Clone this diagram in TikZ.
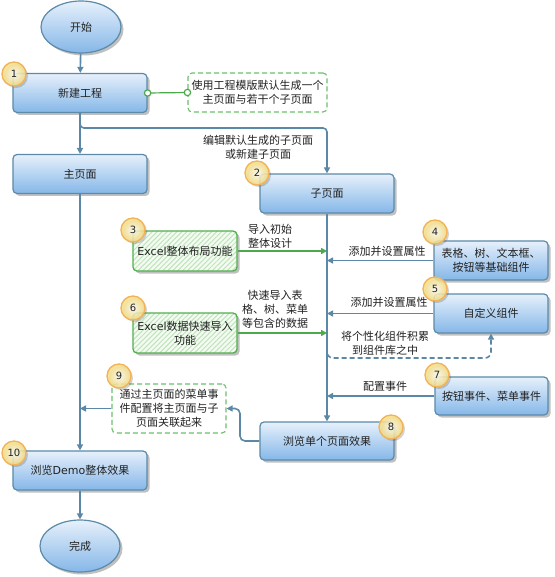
\documentclass[tikz,border=0pt]{standalone}
\usepackage{fontspec}
\newfontfamily\cjk{Noto Sans CJK SC}
\newfontfamily\lat{DejaVu Sans}
\usetikzlibrary{shapes.geometric,arrows.meta,shadows,patterns.meta}
\definecolor{boxtop}{HTML}{E6F0FB}
\definecolor{boxbot}{HTML}{85B7E8}
\definecolor{boxbord}{HTML}{5C8AA8}
\definecolor{conncol}{HTML}{5B88A6}
\definecolor{gbord}{HTML}{52AE4E}
\definecolor{gnote}{HTML}{6DBF6A}
\definecolor{garrow}{HTML}{4CAA4C}
\definecolor{gfill}{HTML}{F4FBF2}
\definecolor{ghatch}{HTML}{BFE3BA}
\definecolor{badgein}{HTML}{FFFFF4}
\definecolor{badgeout}{HTML}{F6DC7A}
\definecolor{badgeb}{HTML}{F2B25A}
\definecolor{txt}{HTML}{222222}
\tikzset{
  base/.style={font=\cjk\fontsize{11}{14}\selectfont, text=txt, align=center, inner sep=2pt},
  shad/.style={drop shadow={shadow xshift=2.5pt, shadow yshift=-2.5pt, opacity=0.35, fill=black!70}},
  proc/.style={base, shad, draw=boxbord, line width=1.2pt, rounded corners=4pt,
    top color=boxtop, bottom color=boxbot, minimum width=134pt, minimum height=39pt},
  term/.style={base, shad, ellipse, draw=boxbord, line width=1.2pt,
    top color=boxtop, bottom color=boxbot, minimum width=80pt, minimum height=52pt},
  gbox/.style={base, shad, draw=gbord, line width=1.3pt, rounded corners=4pt,
    preaction={fill=gfill},
    preaction={pattern={Lines[angle=45,distance=3.5pt,line width=1pt]}, pattern color=ghatch},
    minimum width=104pt, minimum height=40pt},
  gnote/.style={base, draw=gnote, line width=1.1pt, dashed, dash pattern=on 5pt off 3pt,
    rounded corners=4pt, fill=white},
  badge/.style={circle, minimum size=24pt, inner sep=0pt, draw=badgeb, line width=1.3pt,
    inner color=badgein, outer color=badgeout, fill opacity=0.85, text opacity=1,
    drop shadow={shadow xshift=2pt, shadow yshift=-2pt, opacity=0.25, fill=black!70},
    font=\lat\fontsize{10}{12}\selectfont, text=txt},
  lbl/.style={base, inner sep=1pt},
  conn/.style={draw=conncol, line width=1.6pt, -{Triangle[length=6pt,width=6pt]}},
  gconn/.style={draw=garrow, line width=1.6pt, -{Triangle[length=6pt,width=6pt]}},
  ring/.style={draw=garrow, line width=1.2pt, fill=white},
}
\begin{document}
\begin{tikzpicture}[x=1pt,y=-1pt]
\useasboundingbox[fill=white] (0,0) rectangle (554,577);

% main nodes
\node[term] (start) at (81,27) {开始};
\node[proc] (new) at (80,93) {新建工程};
\node[gnote, minimum width=139pt, minimum height=39pt] (note1) at (257.5,92.5) {使用工程模版默认生成一个\\主页面与若干个子页面};
\node[proc] (main) at (80,174) {主页面};
\node[proc] (sub) at (327,193.5) {子页面};
\node[gbox] (ex1) at (185,251) {{\lat Excel}整体布局功能};
\node[proc, minimum width=114pt] (basic) at (491,260.5) {表格、树、文本框、\\按钮等基础组件};
\node[proc, minimum width=114pt] (custom) at (491,313.5) {自定义组件};
\node[gbox] (ex2) at (185,333) {{\lat Excel}数据快速导入\\功能};
\node[proc, minimum width=113pt, minimum height=38pt] (evt) at (491.5,396) {按钮事件、菜单事件};
\node[proc, minimum height=38pt] (view) at (327,441) {浏览单个页面效果};
\node[gnote, minimum width=114pt, minimum height=49pt] (note9) at (169,408.5) {通过主页面的菜单事\\件配置将主页面与子\\页面关联起来};
\node[proc] (demo) at (80,470.5) {浏览{\lat Demo}整体效果};
\node[term] (fin) at (80,546) {完成};

% junction coordinates
\coordinate (b1) at (327,128);
\coordinate (j3) at (327,251);
\coordinate (j4) at (327,260.5);
\coordinate (j5) at (327,313.5);
\coordinate (j6) at (327,333);
\coordinate (d0) at (327,346);
\coordinate (d1) at (491,358);
\coordinate (j7) at (327,396);
\coordinate (k9) at (240,441);
\coordinate (j9) at (80,408.5);

% connectors
\draw[conn] (start) -- (new);
\draw[conn] (new) -- (main);
\draw[conn, rounded corners=4pt] (new.south) |- (b1) -- (sub.north);
\draw[draw=garrow, line width=1.2pt] (new.east) -- (note1.west);
\draw[ring] (new.east) circle (3.2pt);
\draw[ring] (note1.west) circle (3.2pt);
\draw[conn] (sub.south) -- (view.north);
\draw[gconn] (ex1.east) -- (j3);
\draw[conn] (basic.west) -- (j4);
\draw[conn] (custom.west) -- (j5);
\draw[gconn] (ex2.east) -- (j6);
\draw[conn, dashed, dash pattern=on 5pt off 3pt, rounded corners=6pt] (d0) |- (d1) -- (custom.south);
\draw[conn] (evt.west) -- (j7);
\draw[conn, rounded corners=5pt] (view.west) -- (k9) |- (note9.east);
\draw[conn] (note9.west) -- (j9);
\draw[conn] (main.south) -- (demo.north);
\draw[conn] (demo.south) -- (fin.north);

% labels
\node[lbl] (l2) at (258,147) {编辑默认生成的子页面\\或新建子页面};
\node[lbl] (l3) at (270,236) {导入初始\\整体设计};
\node[lbl] (l4) at (387,251) {添加并设置属性};
\node[lbl] (l5) at (389,302) {添加并设置属性};
\node[lbl] (l6) at (275,309) {快速导入表\\格、树、菜单\\等包含的数据};
\node[lbl] (ld) at (385,343) {将个性化组件积累\\到组件库之中};
\node[lbl] (l7) at (385,386) {配置事件};

% badges
\node[badge] (n1) at (14,74) {1};
\node[badge] (n2) at (257,173) {2};
\node[badge] (n3) at (133,230) {3};
\node[badge] (n4) at (435,232) {4};
\node[badge] (n5) at (435,289) {5};
\node[badge] (n6) at (133,308) {6};
\node[badge] (n7) at (437,375) {7};
\node[badge] (n8) at (391,427) {8};
\node[badge] (n9) at (119,376) {9};
\node[badge] (n10) at (14,453) {10};
\end{tikzpicture}
\end{document}
